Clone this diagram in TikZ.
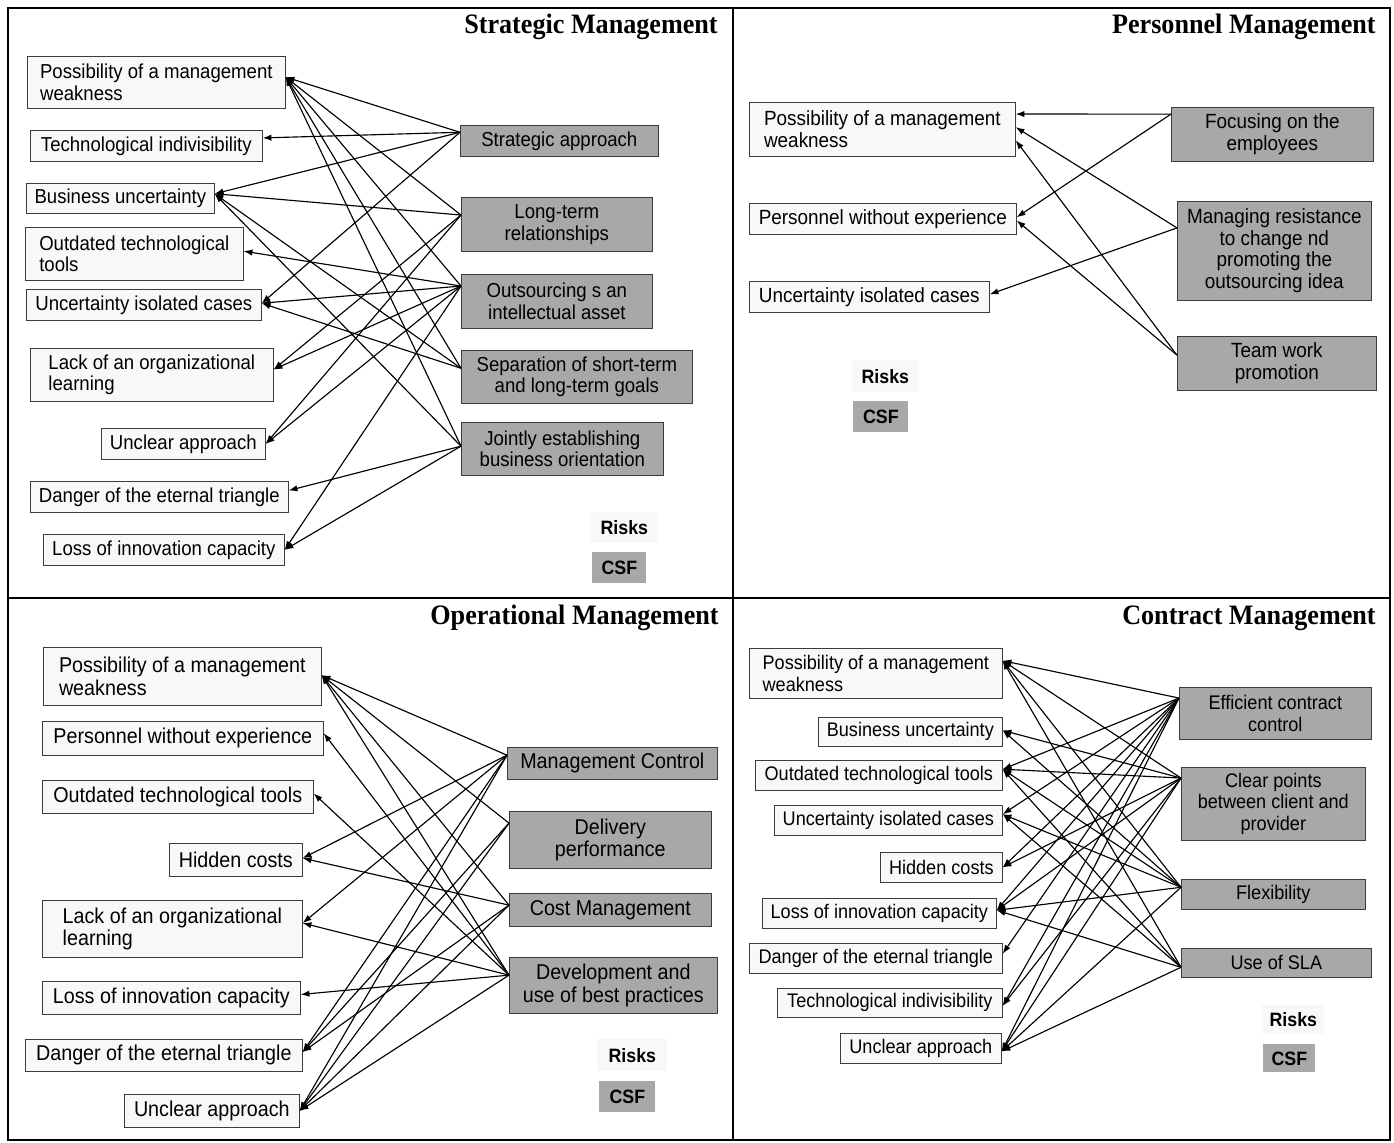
\documentclass[tikz,border=0pt]{standalone}
\usepackage{fontspec}
\setmainfont{Liberation Sans}[FakeStretch=0.92]
\newfontfamily\titlefont{Liberation Serif}[FakeStretch=0.93]
\usepackage{tikz}
\usetikzlibrary{calc,arrows.meta}

\definecolor{riskfill}{RGB}{248,248,248}
\definecolor{csffill}{RGB}{168,168,168}
\definecolor{boxline}{RGB}{60,60,60}

\tikzset{
  risk/.style={draw=boxline, fill=riskfill, align=left, anchor=north west, inner sep=2pt},
  csf/.style={draw=boxline, fill=csffill, align=center, anchor=north west, inner sep=2pt},
  wh/.style 2 args={minimum width=#1cm, minimum height=#2cm},
  link/.style={-{Latex[length=5pt,width=3.6pt]}, line width=0.65pt},
  legend/.style={anchor=north west, inner sep=0pt, font=\bfseries\fontsize{11}{12}\selectfont},
  title/.style={anchor=base east, inner sep=0pt, font=\titlefont\bfseries\fontsize{16}{18}\selectfont},
  frame/.style={line width=1.3pt},
}

\begin{document}
\begin{tikzpicture}[x=0.02cm, y=-0.02cm]
	\fill[white] (0,0) rectangle (1394,1143);
	\useasboundingbox (0,0) rectangle (1394,1143);
	
	\draw[frame] (8,8) rectangle (1390,1140);
	\draw[frame] (733,8) -- (733,1140);
	\draw[frame] (8,598) -- (1390,598);
	
	% Strategic Management
	\begin{scope}[every node/.append style={font=\fontsize{11.5}{12.3}\selectfont}]
		\node[title] (s-title) at (718,33) {Strategic Management};
		
		\node[risk, wh={5.16}{1.04}] (s-pmw) at (27,56) {Possibility of a management\\weakness};
		\node[risk, wh={4.64}{.62}] (s-ti) at (30,130) {Technological indivisibility};
		\node[risk, wh={3.76}{.60}] (s-bu) at (26,183) {Business uncertainty};
		\node[risk, wh={4.36}{1.06}] (s-ott) at (25,227) {Outdated technological\\tools};
		\node[risk, wh={4.70}{.62}] (s-uic) at (26,289) {Uncertainty isolated cases};
		\node[risk, wh={4.86}{1.06}] (s-lol) at (30,348) {Lack of an organizational\\learning};
		\node[risk, wh={3.28}{.62}] (s-ua) at (101,428) {Unclear approach};
		\node[risk, wh={5.16}{.62}] (s-det) at (30,481) {Danger of the eternal triangle};
		\node[risk, wh={4.82}{.62}] (s-lic) at (43,534) {Loss of innovation capacity};
		
		\node[csf, wh={3.96}{.62}] (s-sa) at (460,125) {Strategic approach};
		\node[csf, wh={3.82}{1.08}] (s-lt) at (461,197) {Long-term\\relationships};
		\node[csf, wh={3.82}{1.08}] (s-oa) at (461,274) {Outsourcing s an\\intellectual asset};
		\node[csf, wh={4.62}{1.06}] (s-sep) at (461,350) {Separation of short-term\\and long-term goals};
		\node[csf, wh={4.04}{1.06}] (s-joint) at (461,422) {Jointly establishing\\business orientation};
		
		\node[legend, fill=riskfill, wh={1.32}{.62}] (s-risks) at (591,512) {Risks};
		\node[legend, fill=csffill, wh={1.08}{.62}] (s-csfkey) at (592,552) {CSF};
		
		\foreach \n/\f in {pmw/.4,ti/.25,bu/.35,ott/.45,uic/.45,lol/.4,ua/.5,det/.3,lic/.5}
			\coordinate (s-\n-p) at ($(s-\n.north east)!\f!(s-\n.south east)$);
		\foreach \n/\f in {sa/.23,lt/.33,oa/.22,sep/.34,joint/.45}
			\coordinate (s-\n-p) at ($(s-\n.north west)!\f!(s-\n.south west)$);
		
		\foreach \a/\b in {sa/pmw,sa/ti,sa/bu,sa/uic,
			lt/pmw,lt/bu,lt/lol,lt/ua,
			oa/pmw,oa/ott,oa/uic,oa/lol,oa/ua,oa/lic,
			sep/pmw,sep/bu,sep/uic,
			joint/pmw,joint/bu,joint/det,joint/lic}
			\draw[link] (s-\a-p) -- (s-\b-p);
	\end{scope}
	
	% Personnel Management
	\begin{scope}[every node/.append style={font=\fontsize{11.7}{12.3}\selectfont}]
		\node[title] (p-title) at (1376,33) {Personnel Management};
		
		\node[risk, wh={5.32}{1.08}] (p-pmw) at (749,102) {Possibility of a management\\weakness};
		\node[risk, wh={5.34}{.62}] (p-pwe) at (749,203) {Personnel without experience};
		\node[risk, wh={4.80}{.62}] (p-uic) at (749,281) {Uncertainty isolated cases};
		
		\node[csf, wh={4.04}{1.08}] (p-foc) at (1171,107) {Focusing on the\\employees};
		\node[csf, wh={3.88}{1.98}] (p-mng) at (1177,201) {Managing resistance\\to change nd\\promoting the\\outsourcing idea};
		\node[csf, wh={3.98}{1.08}] (p-team) at (1177,336) {Team work\\promotion};
		
		\node[legend, fill=riskfill, wh={1.32}{.64}] (p-risks) at (852,360) {Risks};
		\node[legend, fill=csffill, wh={1.10}{.62}] (p-csfkey) at (853,401) {CSF};
		
		\coordinate (p-pmw-a) at ($(p-pmw.north east)!.22!(p-pmw.south east)$);
		\coordinate (p-pmw-b) at ($(p-pmw.north east)!.46!(p-pmw.south east)$);
		\coordinate (p-pmw-c) at ($(p-pmw.north east)!.7!(p-pmw.south east)$);
		\coordinate (p-pwe-a) at ($(p-pwe.north east)!.45!(p-pwe.south east)$);
		\coordinate (p-pwe-b) at ($(p-pwe.north east)!.55!(p-pwe.south east)$);
		\coordinate (p-uic-a) at ($(p-uic.north east)!.42!(p-uic.south east)$);
		\coordinate (p-foc-p) at ($(p-foc.north west)!.13!(p-foc.south west)$);
		\coordinate (p-mng-p) at ($(p-mng.north west)!.27!(p-mng.south west)$);
		\coordinate (p-team-p) at ($(p-team.north west)!.35!(p-team.south west)$);
		
		\draw[link] (p-foc-p) -- (p-pmw-a);
		\draw[link] (p-foc-p) -- (p-pwe-a);
		\draw[link] (p-mng-p) -- (p-pmw-b);
		\draw[link] (p-mng-p) -- (p-uic-a);
		\draw[link] (p-team-p) -- (p-pmw-c);
		\draw[link] (p-team-p) -- (p-pwe-b);
	\end{scope}
	
	% Operational Management
	\begin{scope}[every node/.append style={font=\fontsize{12.2}{12.9}\selectfont}]
		\node[title] (o-title) at (719,624) {Operational Management};
		
		\node[risk, wh={5.56}{1.16}] (o-pmw) at (43,647) {Possibility of a management\\weakness};
		\node[risk, wh={5.62}{.68}] (o-pwe) at (42,721) {Personnel without experience};
		\node[risk, wh={5.42}{.66}] (o-ott) at (42,780) {Outdated technological tools};
		\node[risk, wh={2.66}{.66}] (o-hc) at (169,843) {Hidden costs};
		\node[risk, wh={5.20}{1.14}] (o-lol) at (42,900) {Lack of an organizational\\learning};
		\node[risk, wh={5.16}{.66}] (o-lic) at (42,981) {Loss of innovation capacity};
		\node[risk, wh={5.54}{.64}] (o-det) at (25,1039) {Danger of the eternal triangle};
		\node[risk, wh={3.50}{.66}] (o-ua) at (124,1094) {Unclear approach};
		
		\node[csf, wh={4.20}{.64}] (o-mc) at (507,747) {Management Control};
		\node[csf, wh={4.04}{1.14}] (o-dp) at (509,811) {Delivery\\performance};
		\node[csf, wh={4.04}{.66}] (o-cm) at (509,893) {Cost Management};
		\node[csf, wh={4.16}{1.12}] (o-dubp) at (509,957) {Development and\\use of best practices};
		
		\node[legend, fill=riskfill, wh={1.40}{.64}] (o-risks) at (597,1039) {Risks};
		\node[legend, fill=csffill, wh={1.12}{.62}] (o-csfkey) at (599,1081) {CSF};
		
		\foreach \n/\f in {pmw/.48,pwe/.35,ott/.4,hc/.45,lol/.4,lic/.4,det/.4,ua/.5}
			\coordinate (o-\n-p) at ($(o-\n.north east)!\f!(o-\n.south east)$);
		\foreach \n/\f in {mc/.25,dp/.21,cm/.36,dubp/.32}
			\coordinate (o-\n-p) at ($(o-\n.north west)!\f!(o-\n.south west)$);
		
		\foreach \a/\b in {mc/pmw,mc/hc,mc/lol,mc/det,mc/ua,
			dp/pmw,dp/det,dp/ua,
			cm/pmw,cm/hc,cm/det,cm/ua,
			dubp/pmw,dubp/pwe,dubp/ott,dubp/lol,dubp/lic,dubp/ua}
			\draw[link] (o-\a-p) -- (o-\b-p);
	\end{scope}
	
	% Contract Management
	\begin{scope}[every node/.append style={font=\fontsize{11.2}{12.2}\selectfont}]
		\node[title] (c-title) at (1376,624) {Contract Management};
		
		\node[risk, wh={5.06}{1.00}] (c-pmw) at (749,648) {Possibility of a management\\weakness};
		\node[risk, wh={3.68}{.58}] (c-bu) at (818,717) {Business uncertainty};
		\node[risk, wh={4.94}{.60}] (c-ott) at (755,760) {Outdated technological tools};
		\node[risk, wh={4.56}{.60}] (c-uic) at (774,805) {Uncertainty isolated cases};
		\node[risk, wh={2.44}{.60}] (c-hc) at (880,852) {Hidden costs};
		\node[risk, wh={4.68}{.60}] (c-lic) at (762,898) {Loss of innovation capacity};
		\node[risk, wh={5.06}{.60}] (c-det) at (749,943) {Danger of the eternal triangle};
		\node[risk, wh={4.50}{.58}] (c-ti) at (777,988) {Technological indivisibility};
		\node[risk, wh={3.22}{.60}] (c-ua) at (840,1033) {Unclear approach};
		
		\node[csf, wh={3.84}{1.04}] (c-ecc) at (1179,687) {Efficient contract\\control};
		\node[csf, wh={3.68}{1.46}] (c-cp) at (1181,767) {Clear points\\between client and\\provider};
		\node[csf, wh={3.68}{.60}] (c-flex) at (1181,879) {Flexibility};
		\node[csf, wh={3.80}{.58}] (c-sla) at (1181,948) {Use of SLA};
		
		\node[legend, fill=riskfill, wh={1.24}{.58}] (c-risks) at (1262,1005) {Risks};
		\node[legend, fill=csffill, wh={1.04}{.56}] (c-csfkey) at (1263,1044) {CSF};
		
		\foreach \n/\f in {pmw/.25,bu/.45,ott/.3,uic/.3,hc/.5,lic/.4,det/.35,ti/.6,ua/.6}
			\coordinate (c-\n-p) at ($(c-\n.north east)!\f!(c-\n.south east)$);
		\foreach \n/\f in {ecc/.21,cp/.15,flex/.27,sla/.65}
			\coordinate (c-\n-p) at ($(c-\n.north west)!\f!(c-\n.south west)$);
		
		\foreach \a/\b in {ecc/pmw,ecc/ott,ecc/uic,ecc/hc,ecc/lic,ecc/det,ecc/ti,ecc/ua,
			cp/pmw,cp/bu,cp/ott,cp/hc,cp/lic,cp/ti,cp/ua,
			flex/pmw,flex/bu,flex/ott,flex/uic,flex/lic,flex/ua,
			sla/pmw,sla/ott,sla/uic,sla/lic,sla/ua}
			\draw[link] (c-\a-p) -- (c-\b-p);
	\end{scope}
\end{tikzpicture}
\end{document}
